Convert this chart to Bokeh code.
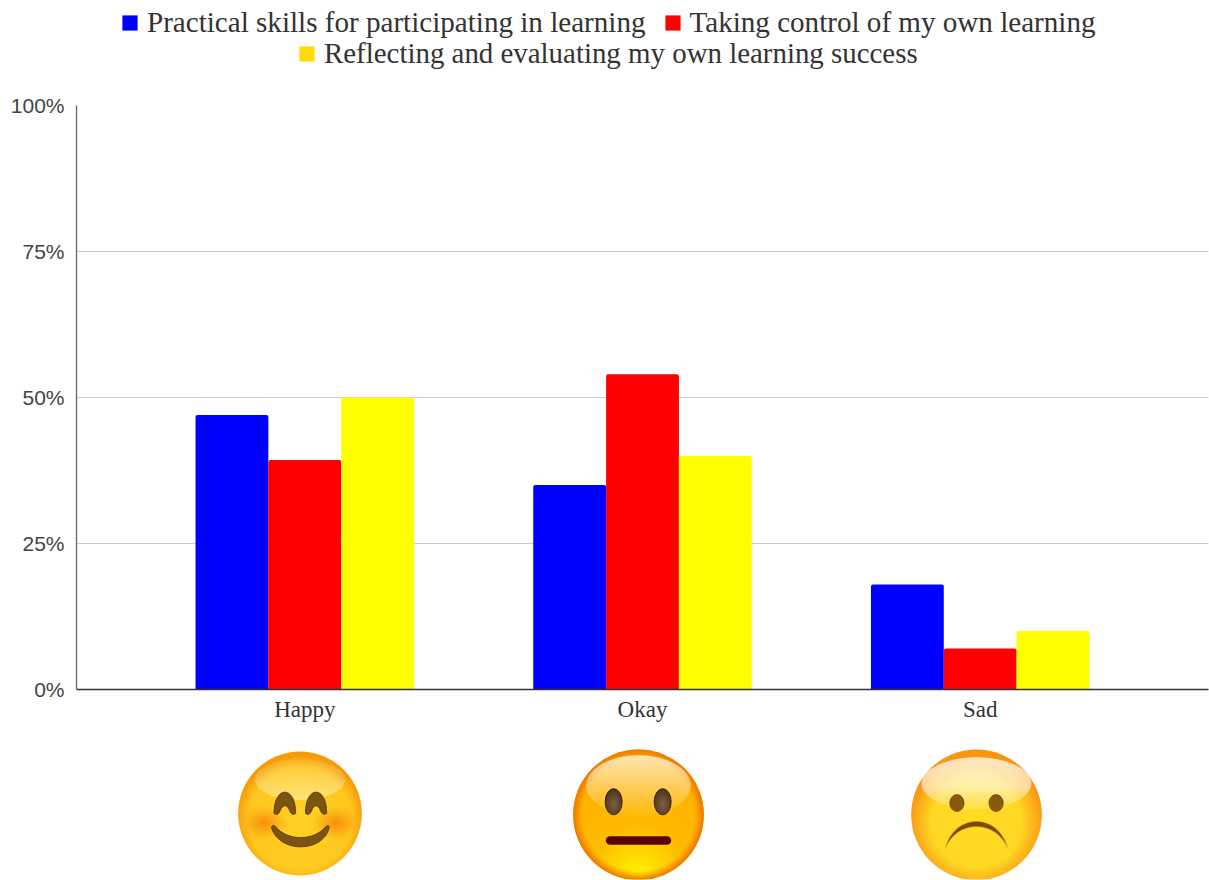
from urllib.parse import quote

from bokeh.embed import file_html
from bokeh.layouts import column
from bokeh.models import (ColumnDataSource, FactorRange, FixedTicker, Legend, LegendItem,
                          PrintfTickFormatter, Range1d)
from bokeh.plotting import figure
from bokeh.resources import INLINE
from bokeh.transform import dodge

categories = ["Happy", "Okay", "Sad"]
practical_skills = [47, 35, 18]
taking_control = [39.3, 54, 7]
reflecting = [50, 40, 10]
series_names = ["Practical skills for participating in learning",
                "Taking control of my own learning",
                "Reflecting and evaluating my own learning success"]
y_ticks = [0, 25, 50, 75, 100]

BLUE, RED, YELLOW, SWATCH_GOLD = "#0000ff", "#ff0000", "#ffff00", "#ffdb0c"
SERIF, SANS = "Liberation Serif", "Liberation Sans"
BAR_W = 0.2157
NAN = float("nan")

source = ColumnDataSource(dict(cat=categories, a=practical_skills, b=taking_control, c=reflecting))
x_range = FactorRange(factors=categories, range_padding=0.176, range_padding_units="absolute")

p = figure(width=1209, height=655, x_range=x_range, y_range=Range1d(0, 100),
           output_backend="svg", toolbar_location=None, min_border_left=76, min_border_right=1,
           min_border_top=25, min_border_bottom=46, outline_line_color=None)

for col, off, color in (("a", -BAR_W, BLUE), ("b", 0, RED), ("c", BAR_W, YELLOW)):
    p.vbar(x=dodge("cat", off, range=x_range), top=col, bottom=0, width=BAR_W,
           source=source, fill_color=color, line_color=None, border_radius=(2, 2, 0, 0))

p.xaxis.major_label_text_font = SERIF
p.xaxis.major_label_text_font_size = "23px"
p.xaxis.major_label_text_color = "#333333"
p.xaxis.major_label_standoff = 1
p.xaxis.major_tick_line_color = None
p.xaxis.minor_tick_line_color = None
p.xaxis.axis_line_color = "#333333"
p.xaxis.axis_line_width = 1.3

p.yaxis.ticker = FixedTicker(ticks=y_ticks)
p.yaxis.formatter = PrintfTickFormatter(format="%d%%")
p.yaxis.major_label_text_font = SANS
p.yaxis.major_label_text_font_size = "21px"
p.yaxis.major_label_text_color = "#444444"
p.yaxis.major_label_standoff = 6
p.yaxis.major_tick_line_color = None
p.yaxis.minor_tick_line_color = None
p.yaxis.axis_line_color = "#666666"
p.yaxis.axis_line_width = 1.3

p.xgrid.grid_line_color = None
p.ygrid.ticker = FixedTicker(ticks=y_ticks)
p.ygrid.grid_line_color = "#cccccc"
p.ygrid.grid_line_width = 1

# Legend strip above the chart: its swatches come from placeholder bars with no visible extent.
strip = figure(width=1209, height=80, x_range=Range1d(0, 1), y_range=Range1d(0, 1),
               output_backend="svg", toolbar_location=None, min_border=0, outline_line_color=None)
strip.axis.visible = False
strip.grid.visible = False
swatches = [strip.vbar(x=[NAN], top=[NAN], bottom=[NAN], width=0.1, fill_color=c, line_color=None)
            for c in (BLUE, RED, SWATCH_GOLD)]


def make_legend(items, x, y, size):
    return Legend(items=[LegendItem(label=label, renderers=[r]) for label, r in items],
                  orientation="horizontal", location=(x, y), border_line_color=None,
                  background_fill_alpha=0, padding=0, margin=0, spacing=17, glyph_width=19,
                  glyph_height=19, label_standoff=8, label_text_font=SERIF,
                  label_text_font_size=size, label_text_color="#333333",
                  label_height=27, label_text_baseline="middle")


strip.add_layout(make_legend(list(zip(series_names[:2], swatches[:2])), 44, 41.5, "29.1px"), "center")
strip.add_layout(make_legend([(series_names[2], swatches[2])], 221, 10.5, "28.9px"), "center")

# Face icons under the axis, drawn as layered vector gradients.
DEFS = """
<defs>
<linearGradient id="hiHappy" x1="0" y1="0" x2="0" y2="1"><stop offset="0" stop-color="#fff" stop-opacity=".05"/>
<stop offset="1" stop-color="#fff" stop-opacity=".4"/></linearGradient>
<linearGradient id="hiOkay" x1="0" y1="0" x2="0" y2="1"><stop offset="0" stop-color="#fff" stop-opacity=".7"/>
<stop offset="1" stop-color="#fff" stop-opacity=".04"/></linearGradient>
<linearGradient id="hiSad" x1="0" y1="0" x2="0" y2="1"><stop offset="0" stop-color="#fff" stop-opacity=".72"/>
<stop offset=".55" stop-color="#fff" stop-opacity=".6"/><stop offset="1" stop-color="#fff" stop-opacity=".12"/></linearGradient>
<radialGradient id="happy" cx="50%" cy="55%" r="52%"><stop offset="0" stop-color="#ffd024"/>
<stop offset=".8" stop-color="#ffc81e"/><stop offset="1" stop-color="#f59a0a"/></radialGradient>
<radialGradient id="cheek"><stop offset="0" stop-color="#f7900c" stop-opacity="1"/>
<stop offset="1" stop-color="#f7900c" stop-opacity="0"/></radialGradient>
<radialGradient id="okay" cx="50%" cy="96%" r="90%"><stop offset="0" stop-color="#fff200"/>
<stop offset=".42" stop-color="#ffba00"/><stop offset="1" stop-color="#ffad00"/></radialGradient>
<radialGradient id="rim"><stop offset=".86" stop-color="#ee7800" stop-opacity="0"/>
<stop offset="1" stop-color="#ee7800" stop-opacity="1"/></radialGradient>
<radialGradient id="sad" cx="50%" cy="56%" r="52%"><stop offset="0" stop-color="#ffdc24"/>
<stop offset=".66" stop-color="#ffd824"/><stop offset="1" stop-color="#fa9512"/></radialGradient>
<radialGradient id="eye" cx="50%" cy="60%" r="60%"><stop offset="0" stop-color="#7d6044"/>
<stop offset="1" stop-color="#4c321c"/></radialGradient>
</defs>"""

FACE_HAPPY = """
<circle cx="100" cy="100" r="100" fill="url(#happy)"/>
<ellipse cx="100" cy="45" rx="73" ry="33" fill="url(#hiHappy)"/>
<ellipse cx="42" cy="115" rx="38" ry="27" fill="url(#cheek)"/>
<ellipse cx="158" cy="115" rx="38" ry="27" fill="url(#cheek)"/>
<path d="M58 100 C58 54 93 54 93 100 C87 103 85 100 83 95 C80 85 72 85 68 95 C66 101 63 103 58 100Z" fill="#7a5410" stroke="#5a3a08" stroke-width="1.5"/>
<path d="M109 100 C108 54 144 54 143 100 C138 103 135 100 133 95 C130 85 122 85 119 95 C116 101 114 103 109 100Z" fill="#7a5410" stroke="#5a3a08" stroke-width="1.5"/>
<path d="M54 123 C54 119 58 118 60 121 C80 145 122 145 142 121 C145 118 148 120 147 124 C136 164 66 164 54 123Z" fill="#7a5410" stroke="#5a3a08" stroke-width="1.5"/>"""

FACE_OKAY = """
<circle cx="100" cy="100" r="100" fill="url(#okay)"/>
<circle cx="100" cy="100" r="100" fill="url(#rim)"/>
<ellipse cx="100" cy="55" rx="80" ry="46" fill="url(#hiOkay)"/>
<ellipse cx="62" cy="80" rx="13" ry="20" fill="url(#eye)" stroke="#3c2408" stroke-width="1.5"/>
<ellipse cx="137" cy="80" rx="13" ry="20" fill="url(#eye)" stroke="#3c2408" stroke-width="1.5"/>
<rect x="50" y="133" width="100" height="13" rx="6.5" fill="#5a0000"/>"""

FACE_SAD = """
<circle cx="100" cy="100" r="100" fill="url(#sad)"/>
<ellipse cx="100" cy="52" rx="84" ry="40" fill="url(#hiSad)"/>
<ellipse cx="70" cy="82" rx="11" ry="13" fill="#8a5a0c" stroke="#6a4206" stroke-width="1"/>
<ellipse cx="130" cy="82" rx="11" ry="13" fill="#8a5a0c" stroke="#6a4206" stroke-width="1"/>
<path d="M52 152 C66 96 134 96 148 152 C130 107 70 107 52 152Z" fill="#7a4c08" stroke="#e8b818" stroke-width="1"/>"""


def icon(body, size):
    svg = (f'<svg xmlns="http://www.w3.org/2000/svg" width="{size}" height="{size}" '
           f'viewBox="-1 -1 202 202">{DEFS}{body}</svg>')
    return "data:image/svg+xml," + quote(svg)


icon_urls = [icon(FACE_HAPPY, 125), icon(FACE_OKAY, 132), icon(FACE_SAD, 132)]
icon_x = [299.5, 638, 976]
icon_y = [813, 814.3, 814.3]
icon_size = [125, 132, 132]

# The column lines this frame up with the chart's frame, so its x range spans that same width.
faces = figure(width=1209, height=145, x_range=Range1d(76, 1208), y_range=Range1d(880, 735),
               output_backend="svg", toolbar_location=None, min_border=0, outline_line_color=None)
faces.axis.visible = False
faces.grid.visible = False
faces.image_url(url=icon_urls, x=icon_x, y=icon_y, w=icon_size, h=icon_size, anchor="center",
                w_units="screen", h_units="screen")

page = column(strip, p, faces, spacing=0)
open("out.html", "w").write(file_html(page, INLINE))
